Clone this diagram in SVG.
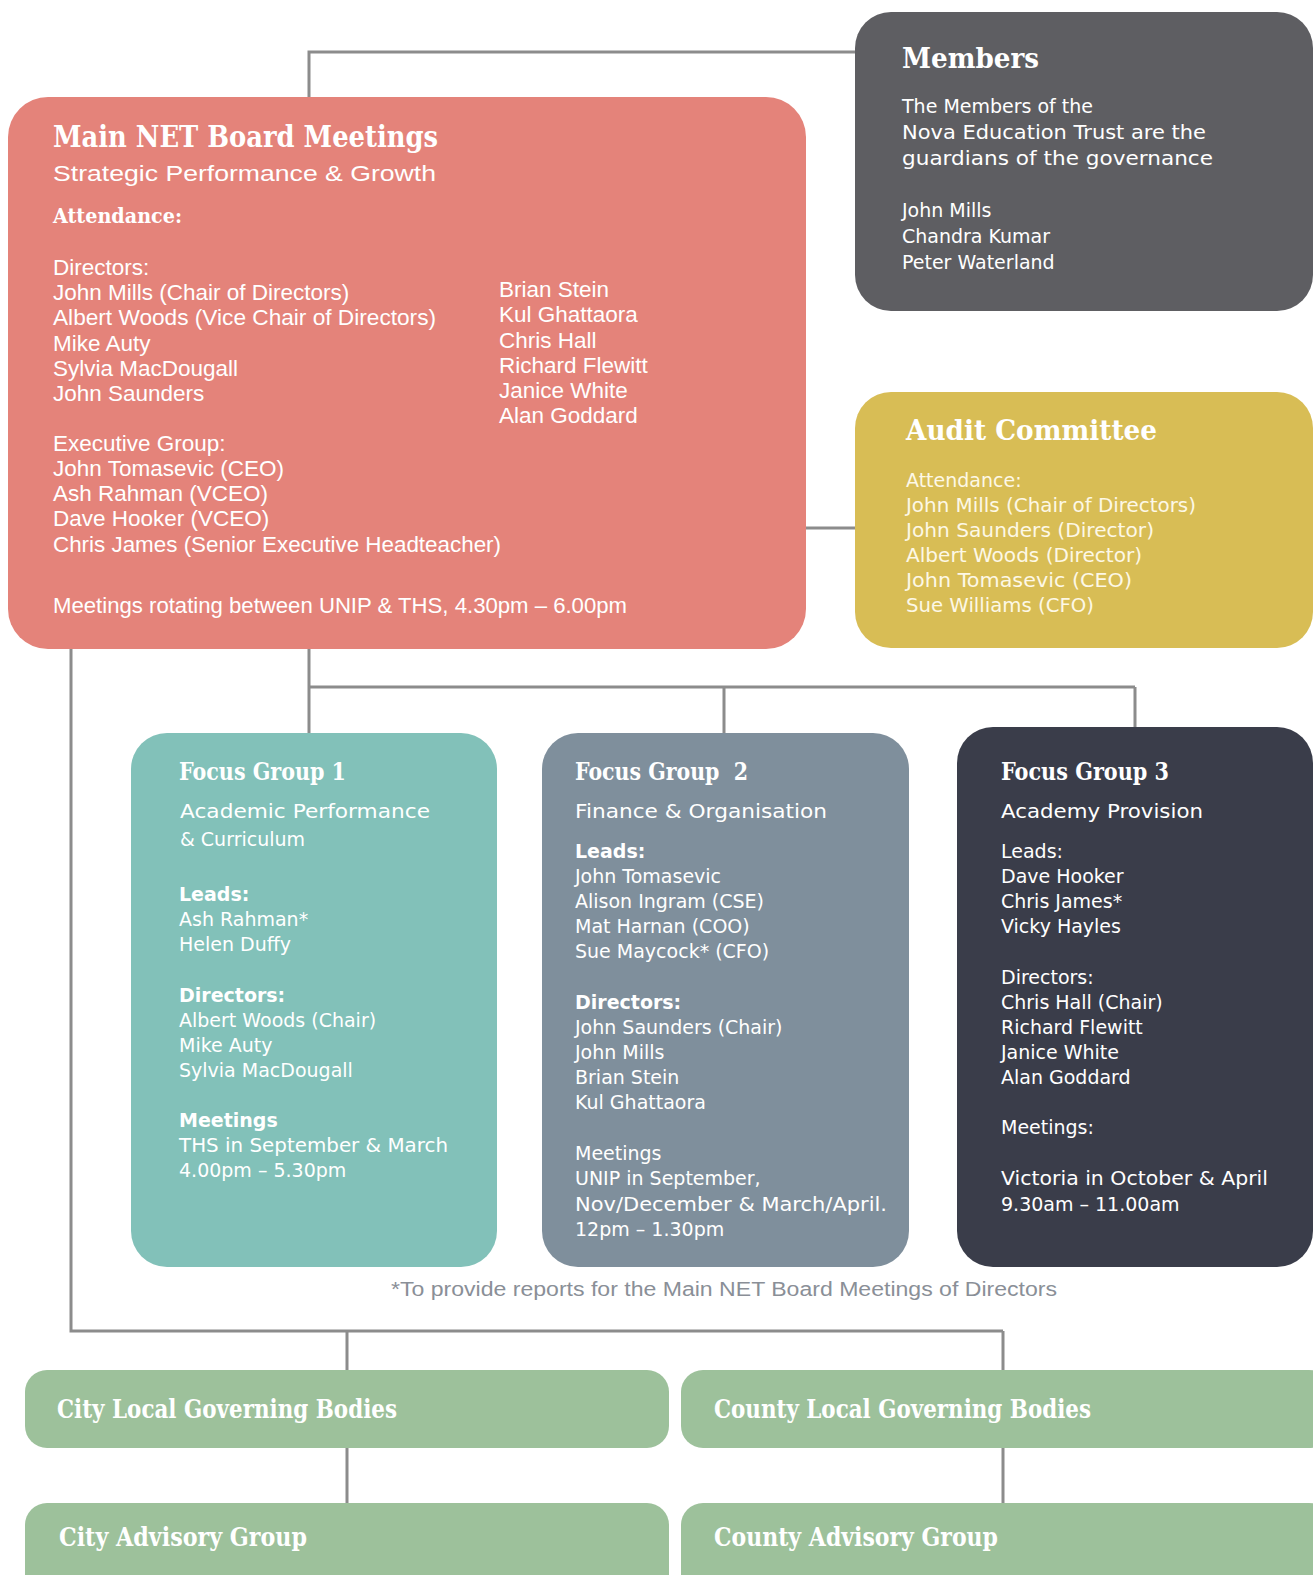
<svg xmlns="http://www.w3.org/2000/svg" width="1313" height="1575" viewBox="0 0 1313 1575">
<style>
.h{font-family:"DejaVu Serif","Liberation Serif",serif;font-weight:bold;fill:#fff}
.b{font-family:"DejaVu Sans","Liberation Sans",sans-serif;fill:#fff;font-size:19px}
.bb{font-family:"DejaVu Sans","Liberation Sans",sans-serif;fill:#fff;font-size:19px;font-weight:bold}
.m{font-family:"Liberation Sans","Arial",sans-serif;fill:#fff;font-size:22.5px}
.a{font-family:"DejaVu Sans","Liberation Sans",sans-serif;fill:#fdf8e6;font-size:19px}
.ln{stroke:#8c8c8c;stroke-width:3;fill:none}
</style>
<rect width="1313" height="1575" fill="#fff"/>
<g id="connectors">
<path class="ln" d="M309 97 V52 H856"/>
<path class="ln" d="M805 528 H856"/>
<path class="ln" d="M309 648 V687 H1135 M309 687 V734 M724 687 V734 M1135 687 V728"/>
<path class="ln" d="M71 648 V1331 H1003 M347 1331 V1371 M1003 1331 V1371"/>
<path class="ln" d="M347 1446 V1504 M1003 1446 V1504"/>
</g>
<g id="members">
<rect x="855" y="12" width="458" height="299" rx="36" fill="#5e5e62"/>
<text class="h" x="902" y="68" font-size="28" textLength="137" lengthAdjust="spacingAndGlyphs">Members</text>
<text class="b" x="902" y="113">The Members of the</text>
<text class="b" x="902" y="139" textLength="304" lengthAdjust="spacingAndGlyphs">Nova Education Trust are the</text>
<text class="b" x="902" y="165" textLength="311" lengthAdjust="spacingAndGlyphs">guardians of the governance</text>
<text class="b" x="902" y="217">John Mills</text>
<text class="b" x="902" y="243">Chandra Kumar</text>
<text class="b" x="902" y="269">Peter Waterland</text>
</g>
<g id="main-board">
<rect x="8" y="97" width="798" height="552" rx="40" fill="#e4837a"/>
<text class="h" x="53" y="147" font-size="30" textLength="385" lengthAdjust="spacingAndGlyphs">Main NET Board Meetings</text>
<text class="m" x="53" y="181" font-size="24" textLength="383" lengthAdjust="spacingAndGlyphs">Strategic Performance &amp; Growth</text>
<text class="h" x="53" y="223" font-size="20" textLength="129" lengthAdjust="spacingAndGlyphs">Attendance:</text>
<text class="m" x="53" y="275">Directors:</text>
<text class="m" x="53" y="300">John Mills (Chair of Directors)</text>
<text class="m" x="53" y="325" textLength="383" lengthAdjust="spacingAndGlyphs">Albert Woods (Vice Chair of Directors)</text>
<text class="m" x="53" y="351">Mike Auty</text>
<text class="m" x="53" y="376">Sylvia MacDougall</text>
<text class="m" x="53" y="401">John Saunders</text>
<text class="m" x="499" y="297">Brian Stein</text>
<text class="m" x="499" y="322">Kul Ghattaora</text>
<text class="m" x="499" y="348">Chris Hall</text>
<text class="m" x="499" y="373">Richard Flewitt</text>
<text class="m" x="499" y="398">Janice White</text>
<text class="m" x="499" y="423">Alan Goddard</text>
<text class="m" x="53" y="451">Executive Group:</text>
<text class="m" x="53" y="476">John Tomasevic (CEO)</text>
<text class="m" x="53" y="501">Ash Rahman (VCEO)</text>
<text class="m" x="53" y="526">Dave Hooker (VCEO)</text>
<text class="m" x="53" y="552" textLength="448" lengthAdjust="spacingAndGlyphs">Chris James (Senior Executive Headteacher)</text>
<text class="m" x="53" y="613" textLength="574" lengthAdjust="spacingAndGlyphs">Meetings rotating between UNIP &amp; THS, 4.30pm – 6.00pm</text>
</g>
<g id="audit">
<rect x="855" y="392" width="458" height="256" rx="36" fill="#d8bd55"/>
<text class="h" x="906" y="440" font-size="28" textLength="251" lengthAdjust="spacingAndGlyphs">Audit Committee</text>
<text class="a" x="906" y="487">Attendance:</text>
<text class="a" x="906" y="512" textLength="290" lengthAdjust="spacingAndGlyphs">John Mills (Chair of Directors)</text>
<text class="a" x="906" y="537" textLength="248" lengthAdjust="spacingAndGlyphs">John Saunders (Director)</text>
<text class="a" x="906" y="562" textLength="236" lengthAdjust="spacingAndGlyphs">Albert Woods (Director)</text>
<text class="a" x="906" y="587" textLength="226" lengthAdjust="spacingAndGlyphs">John Tomasevic (CEO)</text>
<text class="a" x="906" y="612" textLength="188" lengthAdjust="spacingAndGlyphs">Sue Williams (CFO)</text>
</g>
<g id="focus-group-1">
<rect x="131" y="733" width="366" height="534" rx="36" fill="#82c1b9"/>
<text class="h" x="179" y="780" font-size="24" textLength="167" lengthAdjust="spacingAndGlyphs">Focus Group 1</text>
<text class="b" x="180" y="818" font-size="21" textLength="250" lengthAdjust="spacingAndGlyphs">Academic Performance</text>
<text class="b" x="180" y="846" font-size="21">&amp; Curriculum</text>
<text class="bb" x="179" y="901">Leads:</text>
<text class="b" x="179" y="926">Ash Rahman*</text>
<text class="b" x="179" y="951">Helen Duffy</text>
<text class="bb" x="179" y="1002">Directors:</text>
<text class="b" x="179" y="1027">Albert Woods (Chair)</text>
<text class="b" x="179" y="1052">Mike Auty</text>
<text class="b" x="179" y="1077">Sylvia MacDougall</text>
<text class="bb" x="179" y="1127">Meetings</text>
<text class="b" x="179" y="1152" textLength="269" lengthAdjust="spacingAndGlyphs">THS in September &amp; March</text>
<text class="b" x="179" y="1177">4.00pm – 5.30pm</text>
</g>
<g id="focus-group-2">
<rect x="542" y="733" width="367" height="534" rx="36" fill="#7f8f9c"/>
<text class="h" x="575" y="780" font-size="24" textLength="173" lengthAdjust="spacingAndGlyphs">Focus Group&#160; 2</text>
<text class="b" x="575" y="818" font-size="21" textLength="252" lengthAdjust="spacingAndGlyphs">Finance &amp; Organisation</text>
<text class="bb" x="575" y="858">Leads:</text>
<text class="b" x="575" y="883">John Tomasevic</text>
<text class="b" x="575" y="908">Alison Ingram (CSE)</text>
<text class="b" x="575" y="933">Mat Harnan (COO)</text>
<text class="b" x="575" y="958">Sue Maycock* (CFO)</text>
<text class="bb" x="575" y="1009">Directors:</text>
<text class="b" x="575" y="1034">John Saunders (Chair)</text>
<text class="b" x="575" y="1059">John Mills</text>
<text class="b" x="575" y="1084">Brian Stein</text>
<text class="b" x="575" y="1109">Kul Ghattaora</text>
<text class="b" x="575" y="1160">Meetings</text>
<text class="b" x="575" y="1185">UNIP in September,</text>
<text class="b" x="575" y="1211" textLength="312" lengthAdjust="spacingAndGlyphs">Nov/December &amp; March/April.</text>
<text class="b" x="575" y="1236">12pm – 1.30pm</text>
</g>
<g id="focus-group-3">
<rect x="957" y="727" width="356" height="540" rx="36" fill="#3a3d4a"/>
<text class="h" x="1001" y="780" font-size="24" textLength="168" lengthAdjust="spacingAndGlyphs">Focus Group 3</text>
<text class="b" x="1001" y="818" font-size="21" textLength="202" lengthAdjust="spacingAndGlyphs">Academy Provision</text>
<text class="b" x="1001" y="858">Leads:</text>
<text class="b" x="1001" y="883">Dave Hooker</text>
<text class="b" x="1001" y="908">Chris James*</text>
<text class="b" x="1001" y="933">Vicky Hayles</text>
<text class="b" x="1001" y="984">Directors:</text>
<text class="b" x="1001" y="1009">Chris Hall (Chair)</text>
<text class="b" x="1001" y="1034">Richard Flewitt</text>
<text class="b" x="1001" y="1059">Janice White</text>
<text class="b" x="1001" y="1084">Alan Goddard</text>
<text class="b" x="1001" y="1134">Meetings:</text>
<text class="b" x="1001" y="1185" textLength="267" lengthAdjust="spacingAndGlyphs">Victoria in October &amp; April</text>
<text class="b" x="1001" y="1211">9.30am – 11.00am</text>
</g>
<g id="footnote">
<text x="391" y="1296" font-family="Liberation Sans, Arial, sans-serif" font-size="20" fill="#8a8f97" textLength="666" lengthAdjust="spacingAndGlyphs">*To provide reports for the Main NET Board Meetings of Directors</text>
</g>
<g id="city-lgb">
<rect x="25" y="1370" width="644" height="78" rx="22" fill="#9dc19b"/>
<text class="h" x="57" y="1418" font-size="26" textLength="340" lengthAdjust="spacingAndGlyphs">City Local Governing Bodies</text>
</g>
<g id="county-lgb">
<rect x="681" y="1370" width="650" height="78" rx="22" fill="#9dc19b"/>
<text class="h" x="714" y="1418" font-size="26" textLength="377" lengthAdjust="spacingAndGlyphs">County Local Governing Bodies</text>
</g>
<g id="city-advisory">
<rect x="25" y="1503" width="644" height="100" rx="22" fill="#9dc19b"/>
<text class="h" x="59" y="1546" font-size="26" textLength="248" lengthAdjust="spacingAndGlyphs">City Advisory Group</text>
</g>
<g id="county-advisory">
<rect x="681" y="1503" width="650" height="100" rx="22" fill="#9dc19b"/>
<text class="h" x="714" y="1546" font-size="26" textLength="284" lengthAdjust="spacingAndGlyphs">County Advisory Group</text>
</g>
</svg>
